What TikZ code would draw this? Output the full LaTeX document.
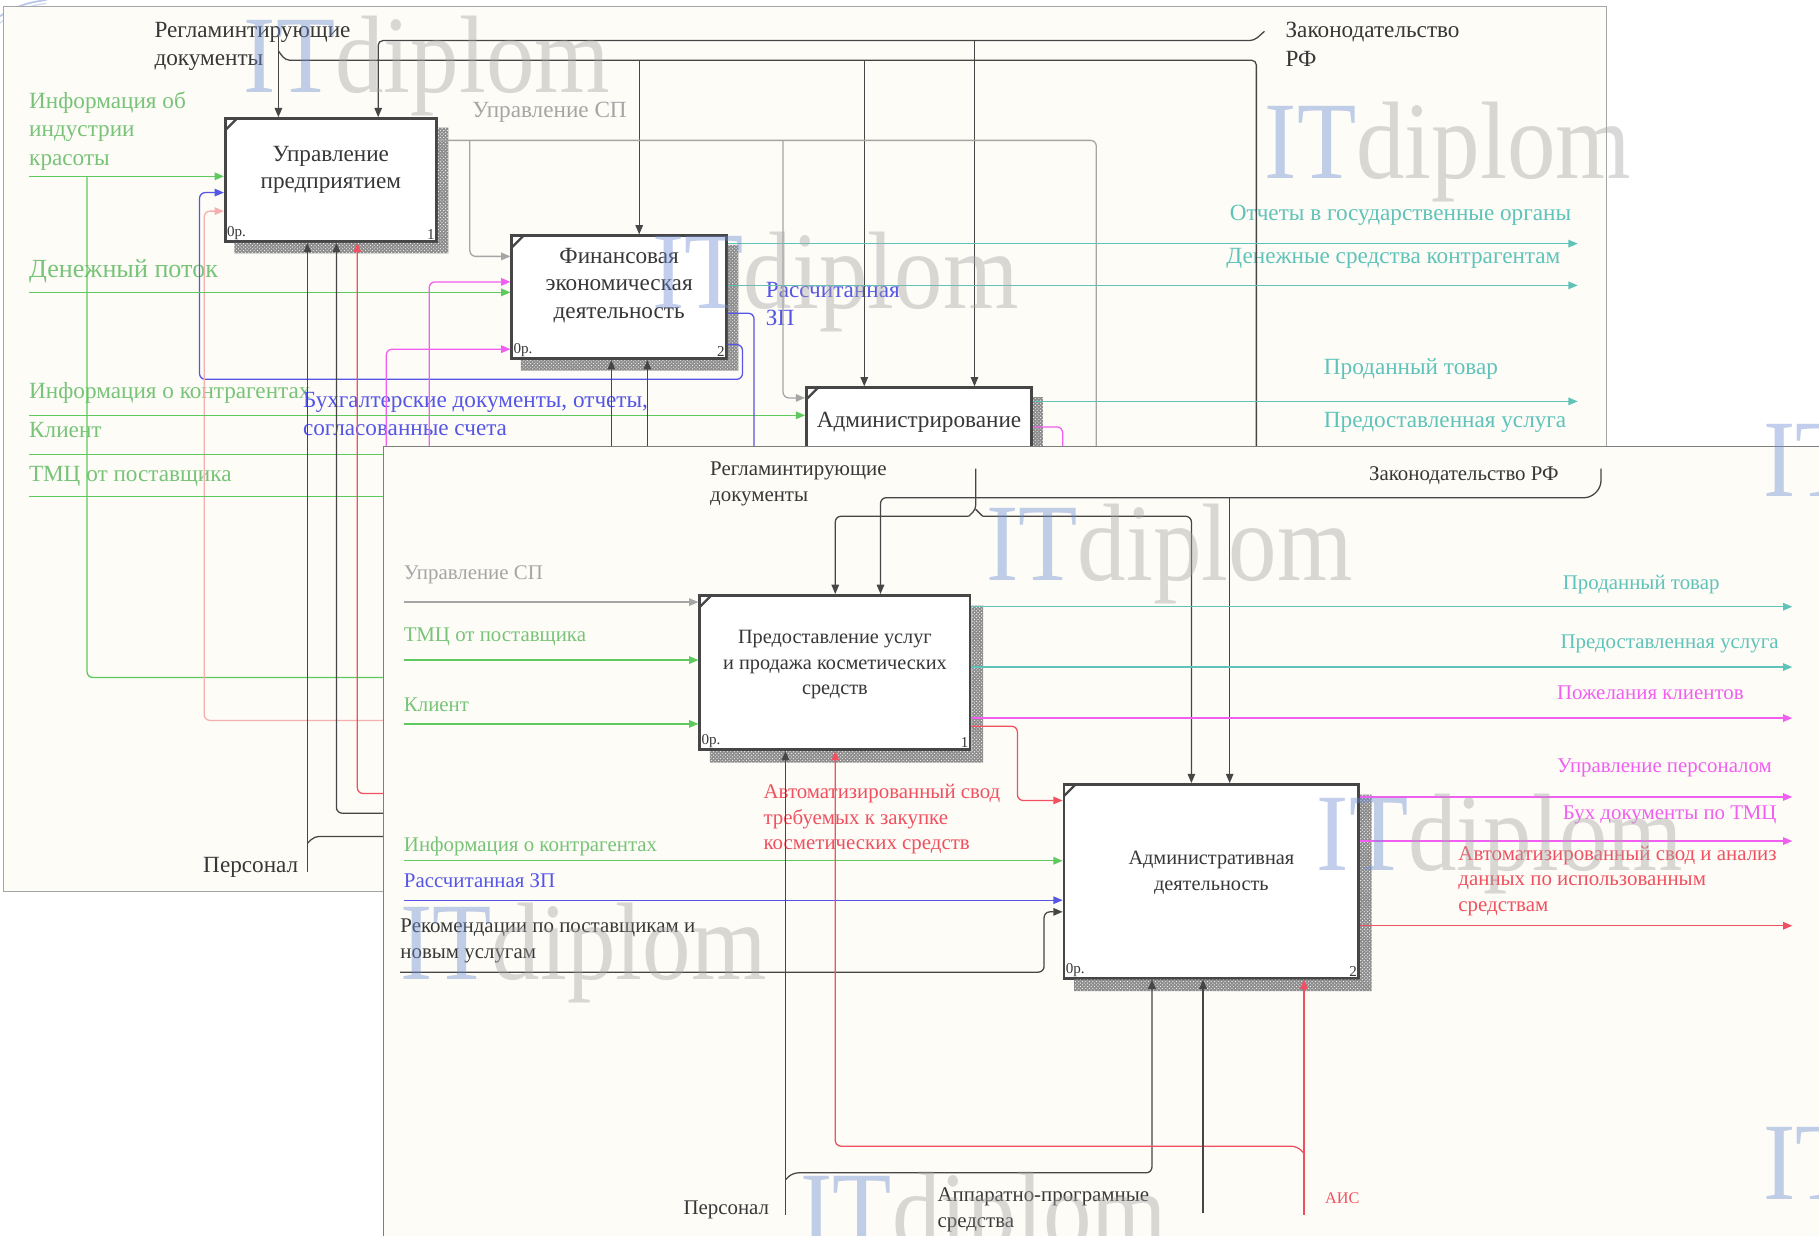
\documentclass[tikz,border=0pt]{standalone}
\usepackage{fontspec}
\setmainfont{Liberation Serif}
\usetikzlibrary{positioning,arrows.meta,patterns}

\definecolor{sheetbg}{RGB}{253,252,247}
\definecolor{dk}{RGB}{70,70,70}
\definecolor{dktxt}{RGB}{55,55,55}
\definecolor{gry}{RGB}{165,165,165}
\definecolor{grn}{RGB}{95,200,95}
\definecolor{grntxt}{RGB}{120,195,120}
\definecolor{tl}{RGB}{95,195,185}
\definecolor{pnk}{RGB}{240,95,240}
\definecolor{rd}{RGB}{240,80,95}
\definecolor{lpnk}{RGB}{245,175,175}
\definecolor{blu}{RGB}{85,85,230}
\definecolor{wmblue}{RGB}{110,140,210}

\tikzset{
  arr/.style={-{Triangle[length=8pt,width=6.5pt]}},
  flow/.style={line width=1.1pt},
  fnbox/.style={draw=dk, line width=2.4pt, fill=white, anchor=north west, inner sep=0pt,
    path picture={\draw[dk, line width=2pt] ([yshift=-10pt]path picture bounding box.north west) -- ([xshift=10pt]path picture bounding box.north west);}},
  hatch/.style={fill=black!45, postaction={pattern=crosshatch dots, pattern color=white}},
  boxtext/.style={font=\fontsize{17.5}{22}\selectfont, align=center, inner sep=0pt, text=dktxt},
  boxtextbig/.style={boxtext, font=\fontsize{20}{23.5}\selectfont},
  num/.style={font=\fontsize{13}{13}\selectfont, inner sep=2.5pt, text=dktxt},
  lbl/.style={font=\fontsize{18}{22}\selectfont, align=left, inner sep=0pt, anchor=north west},
  lblbig/.style={lbl, font=\fontsize{20}{24.5}\selectfont},
  wm/.style={font=\fontsize{95}{95}\selectfont, inner sep=0pt, anchor=north west, xscale=0.88, text opacity=0.42},
}

\begin{document}
\begin{tikzpicture}[x=1pt, y=-1pt]
\useasboundingbox (0,0) rectangle (1568,1065);
\clip (0,0) rectangle (1568,1065);
\fill[white] (0,0) rectangle (1568,1065);
\draw[wmblue!50, line width=1.5pt] (0,14) .. controls (12,6) and (24,2) .. (40,0);
\draw[wmblue!35, line width=1pt] (0,20) .. controls (10,11) and (22,5) .. (40,3);

% ---------- first sheet ----------
\filldraw[fill=sheetbg, draw=gry] (3,5) rectangle (1385,768);

\node[fnbox, minimum width=182pt, minimum height=106pt] (upr) at (193,101) {};
\node[fnbox, minimum width=185pt, minimum height=106pt] (fin) at (440,202) {};
\node[fnbox, minimum width=194pt, minimum height=110pt] (adm) at (694,333) {};
\fill[hatch] ([yshift=-9pt]upr.north east) rectangle ([xshift=9pt,yshift=-9pt]upr.south east)
  ([xshift=9pt]upr.south west) rectangle ([yshift=-9pt]upr.south east);
\fill[hatch] ([yshift=-9pt]fin.north east) rectangle ([xshift=9pt,yshift=-9pt]fin.south east)
  ([xshift=9pt]fin.south west) rectangle ([yshift=-9pt]fin.south east);
\fill[hatch] ([yshift=-9pt]adm.north east) rectangle ([xshift=9pt,yshift=-9pt]adm.south east);

\node[boxtextbig] (uprt) at ([yshift=9pt]upr.center) {Управление\\предприятием};
\node[num, anchor=south west] (upr0) at (upr.south west) {0р.};
\node[num, anchor=south east] (upr1) at (upr.south east) {1};
\node[boxtextbig] (fint) at ([yshift=10pt]fin.center) {Финансовая\\экономическая\\деятельность};
\node[num, anchor=south west] (fin0) at (fin.south west) {0р.};
\node[num, anchor=south east] (fin1) at (fin.south east) {2};
\node[boxtextbig] (admt) at ([yshift=-31pt]adm.north) {Администрирование};

% labels
\node[lblbig, text=dktxt] (rg1t) at (133,19) {Регламинтирующие\\документы};
\node[lblbig, text=dktxt] (zk1t) at (1108,19) {Законодательство\\РФ};
\node[lblbig, text=gry] (uspt) at (407,88) {Управление СП};
\node[lblbig, text=grntxt] (indt) at (25,79) {Информация об\\индустрии\\красоты};
\node[lbl, font=\fontsize{22.5}{24}\selectfont, text=grntxt] (dent) at (25,224) {Денежный поток};
\node[lblbig, text=blu] (zpt) at (660,243) {Рассчитанная\\ЗП};
\node[lblbig, text=grntxt] (kontt) at (25,329) {Информация о контрагентах};
\node[lblbig, text=blu] (buht) at (261,338) {Бухгалтерские документы, отчеты,\\согласованные счета};
\node[lblbig, text=grntxt] (klt) at (25,364) {Клиент};
\node[lblbig, text=grntxt] (tmct) at (25,402) {ТМЦ от поставщика};
\node[lblbig, text=tl] (otct) at (1060,177) {Отчеты в государственные органы};
\node[lblbig, text=tl] (dsct) at (1057,214) {Денежные средства контрагентам};
\node[lblbig, text=tl] (prodt) at (1141,309) {Проданный товар};
\node[lblbig, text=tl] (predt) at (1141,355) {Предоставленная услуга};
\node[lblbig, text=dktxt] (perst) at (175,739) {Персонал};

% controls
\coordinate (zk1) at (1090,27);
\draw[flow, dk, arr, rounded corners=4pt] (zk1) -- (1081,35) -- (326,35) -- (326,0 |- upr.north);
\draw[flow, dk, arr] (840,35) -- (840,0 |- adm.north);
\coordinate (rg1) at (240,28);
\draw[flow, dk, arr] (rg1) -- (240,0 |- upr.north);
\draw[flow, dk, rounded corners=4pt] (240,44) -- (246,52) -- (1083,52) -- (1083,400);
\draw[flow, dk, arr] (551,52) -- (551,0 |- fin.north);
\draw[flow, dk, arr] (745,52) -- (745,0 |- adm.north);
\draw[flow, gry, rounded corners=5pt] (upr.east |- 0,121) -- (945,121) -- (945,400);
\draw[flow, gry, arr, rounded corners=5pt] (405,121) |- (fin.west |- 0,221);
\draw[flow, gry, arr, rounded corners=5pt] (675,121) |- (adm.west |- 0,343);

% inputs
\draw[flow, grn, arr] (indt.west |- 0,152) -- (upr.west |- 0,152);
\draw[flow, grn, rounded corners=5pt] (75,152) -- (75,584) -- (340,584);
\draw[flow, blu, arr, rounded corners=5pt] (fin.east |- 0,297) -- (640,297) -- (640,327) -- (172,327) -- (172,166) -- (upr.west |- 0,166);
\draw[flow, lpnk, arr, rounded corners=5pt] (340,621) -- (176,621) -- (176,182) -- (upr.west |- 0,182);
\draw[flow, grn, arr] (dent.west |- 0,252) -- (fin.west |- 0,252);
\draw[flow, pnk, arr, rounded corners=5pt] (370,400) -- (370,243) -- (fin.west |- 0,243);
\draw[flow, pnk, arr, rounded corners=5pt] (333,400) -- (333,301) -- (fin.west |- 0,301);
\draw[flow, grn, arr] (kontt.west |- 0,358) -- (adm.west |- 0,358);
\draw[flow, grn] (klt.west |- 0,392) -- (340,392);
\draw[flow, grn] (tmct.west |- 0,428) -- (340,428);

% mechanisms
\coordinate (pers1) at (265,752);
\draw[flow, dk, arr] (pers1) -- (265,0 |- upr.south);
\draw[flow, dk, rounded corners=4pt] (265,727) -- (271,721) -- (340,721);
\draw[flow, dk, arr, rounded corners=5pt] (340,701) -- (290,701) -- (290,0 |- upr.south);
\draw[flow, rd, arr, rounded corners=5pt] (340,684) -- (308,684) -- (308,0 |- upr.south);
\draw[flow, dk, arr] (527,400) -- (527,0 |- fin.south);
\draw[flow, dk, arr] (558,400) -- (558,0 |- fin.south);

% outputs
\draw[flow, blu, rounded corners=5pt] (fin.east |- 0,270) -- (650,270) -- (650,400);
\draw[flow, tl, arr] (fin.east |- 0,210) -- (1360,210);
\draw[flow, tl, arr] (fin.east |- 0,246) -- (1360,246);
\draw[flow, tl, arr] (adm.east |- 0,346) -- (1360,346);
\draw[flow, pnk, rounded corners=5pt] (adm.east |- 0,368) -- (916,368) -- (916,400);

% ---------- second sheet ----------
\filldraw[fill=sheetbg, draw=dk!70] (330,385) rectangle (1600,1100);

\node[fnbox, minimum width=233pt, minimum height=133pt] (usl) at (602,512) {};
\node[fnbox, minimum width=254pt, minimum height=167pt] (ad) at (916,675) {};
\fill[hatch] ([yshift=-10pt]usl.north east) rectangle ([xshift=10pt,yshift=-10pt]usl.south east)
  ([xshift=10pt]usl.south west) rectangle ([yshift=-10pt]usl.south east);
\fill[hatch] ([yshift=-10pt]ad.north east) rectangle ([xshift=10pt,yshift=-10pt]ad.south east)
  ([xshift=10pt]ad.south west) rectangle ([yshift=-10pt]ad.south east);

\node[boxtext] (uslt) at ([yshift=6.5pt]usl.center) {Предоставление услуг\\и продажа косметических\\средств};
\node[num, anchor=south west] (usl0) at (usl.south west) {0р.};
\node[num, anchor=south east] (usl1) at (usl.south east) {1};
\node[boxtext] (adt) at ([yshift=7.5pt]ad.center) {Административная\\деятельность};
\node[num, anchor=south west] (ad0) at (ad.south west) {0р.};
\node[num, anchor=south east] (ad1) at (ad.south east) {2};

% labels
\node[lbl, text=dktxt] (rg2t) at (612,398) {Регламинтирующие\\документы};
\node[lbl, text=dktxt] (zk2t) at (1180,402) {Законодательство РФ};
\node[lbl, text=gry] (usp2t) at (348,487) {Управление СП};
\node[lbl, text=grntxt] (tmc2t) at (348,541) {ТМЦ от поставщика};
\node[lbl, text=grntxt] (kl2t) at (348,601) {Клиент};
\node[lbl, text=grntxt] (kont2t) at (348,721) {Информация о контрагентах};
\node[lbl, text=blu] (zp2t) at (348,753) {Рассчитанная ЗП};
\node[lbl, text=dktxt] (rekt) at (345,792) {Рекомендации по поставщикам и\\новым услугам};
\node[lbl, text=rd] (svodt) at (658,676) {Автоматизированный свод\\требуемых к закупке\\косметических средств};
\node[lbl, text=tl] (prod2t) at (1347,496) {Проданный товар};
\node[lbl, text=tl] (pred2t) at (1345,547) {Предоставленная услуга};
\node[lbl, text=pnk] (pozt) at (1342,591) {Пожелания клиентов};
\node[lbl, text=pnk] (uprpt) at (1342,654) {Управление персоналом};
\node[lbl, text=pnk] (buh2t) at (1347,694) {Бух документы по ТМЦ};
\node[lbl, text=rd] (anat) at (1257,729) {Автоматизированный свод и анализ\\данных по использованным\\средствам};
\node[lbl, text=dktxt] (pers2t) at (589,1035) {Персонал};
\node[lbl, text=dktxt] (appt) at (808,1024) {Аппаратно-програмные\\средства};
\node[lbl, font=\fontsize{14}{16}\selectfont, text=rd] (aist) at (1142,1028) {АИС};

% controls
\coordinate (rg2) at (841,404);
\draw[flow, dk, rounded corners=3pt] (rg2) -- (841,439) -- (835,445);
\draw[flow, dk, rounded corners=3pt] (841,439) -- (847,445);
\draw[flow, dk, arr, rounded corners=5pt] (835,445) -- (720,445) -- (720,0 |- usl.north);
\draw[flow, dk, arr, rounded corners=5pt] (847,445) -- (1027,445) -- (1027,0 |- ad.north);
\coordinate (zk2) at (1380,404);
\draw[flow, dk, arr, rounded corners=5pt] (zk2) -- (1380,420) -- (1371,429) -- (759,429) -- (759,0 |- usl.north);
\draw[flow, dk, arr] (1060,429) -- (1060,0 |- ad.north);

% inputs
\draw[flow, gry, arr] (usp2t.west |- 0,519) -- (usl.west |- 0,519);
\draw[flow, grn, arr] (tmc2t.west |- 0,569) -- (usl.west |- 0,569);
\draw[flow, grn, arr] (kl2t.west |- 0,624) -- (usl.west |- 0,624);
\draw[flow, grn, arr] (kont2t.west |- 0,742) -- (ad.west |- 0,742);
\draw[flow, blu, arr] (zp2t.west |- 0,776) -- (ad.west |- 0,776);
\draw[flow, dk, arr, rounded corners=5pt] (rekt.west |- 0,838) -- (900,838) -- (900,786) -- (ad.west |- 0,786);

% outputs
\draw[flow, tl, arr] (usl.east |- 0,523) -- (1545,523);
\draw[flow, tl, arr] (usl.east |- 0,575) -- (1545,575);
\draw[flow, pnk, arr] (usl.east |- 0,619) -- (1545,619);
\draw[flow, rd, arr, rounded corners=5pt] (usl.east |- 0,626) -- (877,626) -- (877,690) -- (ad.west |- 0,690);
\draw[flow, pnk, arr] (ad.east |- 0,687) -- (1545,687);
\draw[flow, pnk, arr] (ad.east |- 0,725) -- (1545,725);
\draw[flow, rd, arr] (ad.east |- 0,798) -- (1545,798);

% mechanisms
\coordinate (pers2) at (677,1047);
\draw[flow, dk, arr] (pers2) -- (677,0 |- usl.south);
\draw[flow, dk, arr, rounded corners=5pt] (677,1017) -- (683,1011) -- (993,1011) -- (993,0 |- ad.south);
\coordinate (ais) at (1124,1047);
\draw[flow, rd, arr] (ais) -- (1124,0 |- ad.south);
\draw[flow, rd, arr, rounded corners=5pt] (1124,994) -- (1118,988) -- (720,988) -- (720,0 |- usl.south);
\coordinate (app) at (1037,1046);
\draw[flow, dk, arr] (app) -- (1037,0 |- ad.south);

% watermarks
\foreach \wx/\wy in {210/14, 1090/88, 562/200, 850/434, 1135/684, 345/778, 690/1010, 1520/362, 1520/968}
  \node[wm] (wm-\wx-\wy) at (\wx,\wy) {\textcolor{wmblue}{IT}\textcolor{gry}{diplom}};
\end{tikzpicture}
\end{document}
